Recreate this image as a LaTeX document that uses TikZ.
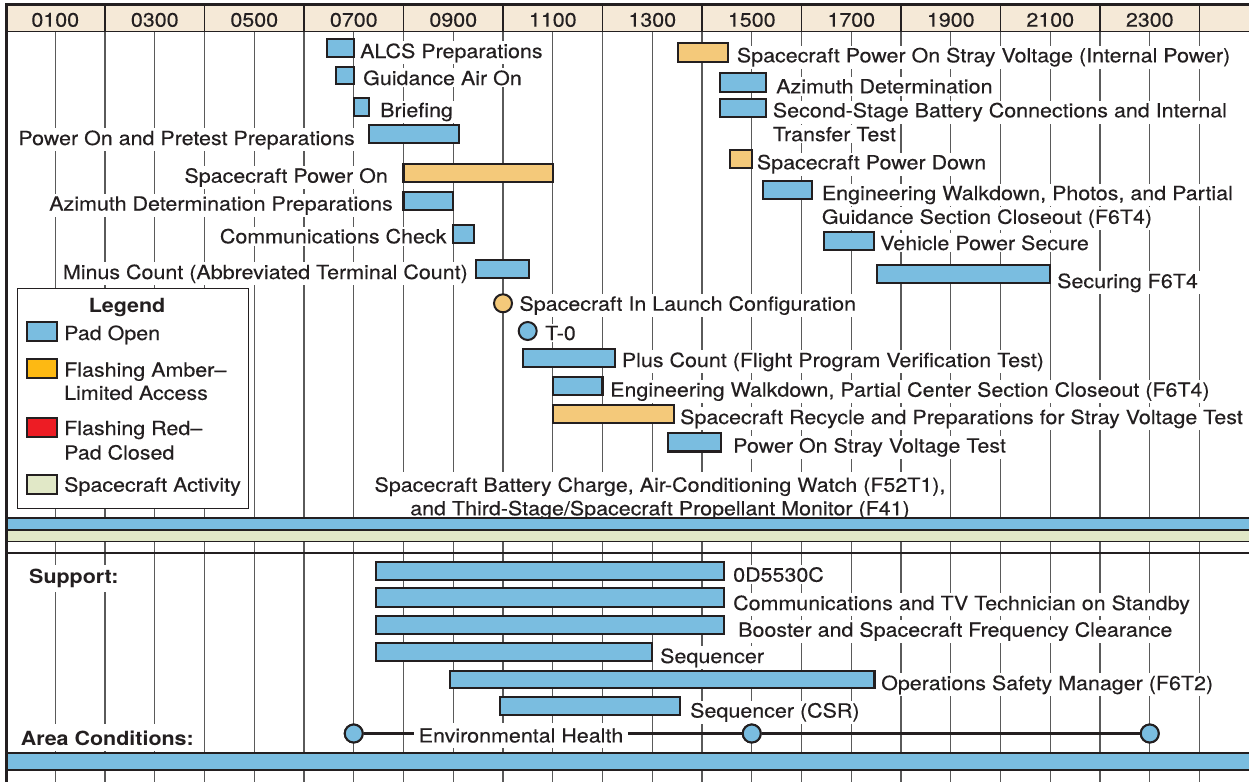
\documentclass[tikz,border=0pt]{standalone}
\usepackage{fontspec}
\setmainfont{TeX Gyre Heros}[FakeStretch=1.1, UprightFeatures={FakeBold=0.25}, BoldFeatures={FakeBold=0}]
\definecolor{padblue}{HTML}{7ABDE0}
\definecolor{amberbar}{HTML}{F4C97A}
\definecolor{amberleg}{HTML}{FDB913}
\definecolor{redleg}{HTML}{ED1C24}
\definecolor{scgreen}{HTML}{E1E8C7}
\definecolor{headtan}{HTML}{F5E9D7}
\definecolor{ink}{HTML}{231F20}
\definecolor{gridgray}{HTML}{5A5A5A}
\newcommand\lblfont{\fontsize{19.5}{23.5}\selectfont}
\tikzset{
  gridline/.style={draw=gridgray, line width=1.2pt},
  hdiv/.style={draw=ink, line width=1.3pt},
  bandline/.style={draw=ink, line width=1.6pt},
  barbase/.style={draw=ink, line width=2.3pt, line join=miter},
  bluebar/.style={barbase, fill=padblue},
  amberbox/.style={barbase, fill=amberbar},
  lbl/.style={fill=white, inner sep=2pt, font=\lblfont, text=ink},
  lw/.style={lbl, anchor=base west},
  le/.style={lbl, anchor=base east},
  dot/.style={circle, draw=ink, line width=2pt, minimum size=18pt, inner sep=0pt},
  swatch/.style={draw=ink, line width=2.3pt},
  legtext/.style={anchor=base west, inner sep=0pt, font=\lblfont, text=ink},
}
\begin{document}
\begin{tikzpicture}[x=1pt, y=-1pt]
\useasboundingbox (0,0) rectangle (1249,782);
\fill[white] (0,0) rectangle (1249,782);
% hourly grid lines
\foreach \h in {1,...,24} \draw[gridline] ({5.5+49.75*\h},32) -- ({5.5+49.75*\h},782);

% ---------- upper section labels ----------
\node[lw] (tAlcs) at (358,58) {ALCS Preparations};
\node[lw] (tGuid) at (361,85) {Guidance Air On};
\node[lw] (tBrief) at (378,117) {Briefing};
\node[le] (tPretest) at (357,145) {Power On and Pretest Preparations};
\node[le] (tScOn) at (390,182.7) {Spacecraft Power On};
\node[le] (tAzPrep) at (395,210.5) {Azimuth Determination Preparations};
\node[le] (tComm) at (448.7,243.3) {Communications Check};
\node[le] (tMinus) at (470,279) {Minus Count (Abbreviated Terminal Count)};
\node[lw] (tLaunch) at (517.3,310.7) {Spacecraft In Launch Configuration};
\node[lw] (tT0) at (543,340) {T-0};
\node[lw] (tPlus) at (619.7,367) {Plus Count (Flight Program Verification Test)};
\node[lw] (tEngC) at (608,396.7) {Engineering Walkdown, Partial Center Section Closeout (F6T4)};
\node[lw] (tRecyc) at (678,424) {Spacecraft Recycle and Preparations for Stray Voltage Test};
\node[lw] (tStrayT) at (731,452.5) {Power On Stray Voltage Test};
\node[lbl, inner sep=5pt, align=center, anchor=north] (tBatt) at (660,472) {Spacecraft Battery Charge, Air-Conditioning Watch (F52T1),\\and Third-Stage/Spacecraft Propellant Monitor (F41)};
\node[lw] (tStrayI) at (734.7,62.3) {Spacecraft Power On Stray Voltage (Internal Power)};
\node[lw] (tAz) at (774,93.3) {Azimuth Determination};
\node[lw] (tSecA) at (770.7,117.3) {Second-Stage Battery Connections and Internal};
\node[lw] (tSecB) at (770.7,141.2) {Transfer Test};
\node[lw] (tDown) at (754.7,169.3) {Spacecraft Power Down};
\node[lw] (tPhotA) at (819.7,200) {Engineering Walkdown, Photos, and Partial};
\node[lw] (tPhotB) at (819.7,223.8) {Guidance Section Closeout (F6T4)};
\node[lw] (tVeh) at (878,250) {Vehicle Power Secure};
\node[lw] (tSecur) at (1055,288) {Securing F6T4};

% ---------- upper section bars ----------
\draw[bluebar] (327.3,39.3) rectangle (353.75,56.7);
\draw[bluebar] (335.7,66.7) rectangle (353.75,84.3);
\draw[bluebar] (353.75,98.3) rectangle (369.3,116);
\draw[bluebar] (369.3,125) rectangle (458.7,143.3);
\draw[amberbox] (403.5,164) rectangle (552.75,182);
\draw[bluebar] (403.5,191.7) rectangle (453.25,210);
\draw[bluebar] (453.25,225) rectangle (473.7,243.3);
\draw[bluebar] (475.7,260) rectangle (528.7,278.3);
\node[dot, fill=amberbar] (cLaunch) at (503,303.3) {};
\node[dot, fill=padblue] (cT0) at (527.7,331) {};
\draw[bluebar] (523.3,349) rectangle (615,366.7);
\draw[bluebar] (552.75,377.3) rectangle (602.5,395);
\draw[amberbox] (552.75,405) rectangle (674,423.3);
\draw[bluebar] (667.7,433) rectangle (720.7,451.5);
\draw[amberbox] (677.7,43.3) rectangle (727.7,61.7);
\draw[bluebar] (720.3,73.3) rectangle (766,91.7);
\draw[bluebar] (720.3,99) rectangle (766,117.3);
\draw[amberbox] (730,150) rectangle (751.75,168.3);
\draw[bluebar] (763.3,181) rectangle (812.3,199.3);
\draw[bluebar] (824.3,231.7) rectangle (874,250);
\draw[bluebar] (877,265) rectangle (1050.25,283.3);

% ---------- legend ----------
\draw[draw=ink, line width=1.3pt, fill=white] (17.3,288.3) rectangle (248.3,508.3);
\node[legtext, anchor=base, font=\lblfont\bfseries] (legT) at (127,312.3) {Legend};
\draw[swatch, fill=padblue] (26.7,321.7) rectangle (57.3,340.7);
\node[legtext] (leg1) at (64,340) {Pad Open};
\draw[swatch, fill=amberleg] (26.7,359.3) rectangle (57.3,378.3);
\node[legtext] (leg2a) at (64,376.7) {Flashing Amber–};
\node[legtext] (leg2b) at (64,399.8) {Limited Access};
\draw[swatch, fill=redleg] (26.7,417.7) rectangle (57.3,436.7);
\node[legtext] (leg3a) at (64,435) {Flashing Red–};
\node[legtext] (leg3b) at (64,459.5) {Pad Closed};
\draw[swatch, fill=scgreen] (26.7,475) rectangle (57.3,494);
\node[legtext] (leg4) at (64,491.7) {Spacecraft Activity};

% ---------- bands ----------
\fill[padblue] (6.5,518.3) rectangle (1249,529.8);
\fill[scgreen] (6.5,529.8) rectangle (1249,541.5);
\draw[bandline, line width=2pt] (6.5,518.3) -- (1249,518.3);
\draw[bandline] (6.5,529.8) -- (1249,529.8);
\draw[bandline] (6.5,541.5) -- (1249,541.5);
\draw[bandline] (6.5,552.7) -- (1249,552.7);

% ---------- support section ----------
\node[lbl, inner sep=4pt, anchor=base west, font=\lblfont\bfseries] (tSupport) at (25,583.3) {Support:};
\node[lw] (s1) at (731,581.7) {0D5530C};
\node[lw] (s2) at (731,610) {Communications and TV Technician on Standby};
\node[lw] (s3) at (736,636.7) {Booster and Spacecraft Frequency Clearance};
\node[lw] (s4) at (658,663) {Sequencer};
\node[lw] (s5) at (879,690) {Operations Safety Manager (F6T2)};
\node[lw] (s6) at (688,717.5) {Sequencer (CSR)};
\draw[bluebar] (375.7,561.7) rectangle (724.3,580);
\draw[bluebar] (375.7,588.3) rectangle (724.3,606.7);
\draw[bluebar] (375.7,616) rectangle (724.3,634);
\draw[bluebar] (375.7,643.3) rectangle (651.7,661);
\draw[bluebar] (450.3,670.7) rectangle (874.5,688.3);
\draw[bluebar] (499.7,697.3) rectangle (679.7,715);

% ---------- area conditions ----------
\node[lbl, inner sep=6pt, anchor=base west, font=\lblfont\bfseries] (tArea) at (14.7,745) {Area Conditions:};
\node[lbl, inner sep=5pt] (tEnv) at (521,735.5) {Environmental Health};
\node[dot, fill=padblue] (e1) at (353.75,733.5) {};
\node[dot, fill=padblue] (e2) at (751.75,733.5) {};
\node[dot, fill=padblue] (e3) at (1149.75,733.5) {};
\draw[draw=ink, line width=2.2pt] (e1) -- (e1 -| tEnv.west);
\draw[draw=ink, line width=2.2pt] (tEnv.east |- e2) -- (e2) -- (e3);
\node[dot, fill=padblue] at (e1) {};
\node[dot, fill=padblue] at (e2) {};
\node[dot, fill=padblue] at (e3) {};

\fill[padblue] (6.5,752.7) rectangle (1249,770);
\draw[bandline, line width=2pt] (6.5,752.7) -- (1249,752.7);
\draw[bandline, line width=2pt] (6.5,770) -- (1249,770);

% ---------- header ----------
\fill[headtan] (6.5,4.7) rectangle (1249,31.5);
\foreach \h in {2,4,...,24} \draw[hdiv] ({5.5+49.75*\h},4.7) -- ({5.5+49.75*\h},31.5);
\foreach \h/\t in {1/0100,3/0300,5/0500,7/0700,9/0900,11/1100,13/1300,15/1500,17/1700,19/1900,21/2100,23/2300}
  \node[anchor=base, inner sep=0pt, font=\lblfont, text=ink] (hd\h) at ({5.5+49.75*\h},26.7) {\t};
\draw[hdiv, line width=1.6pt] (6.5,31.5) -- (1249,31.5);
\draw[draw=ink, line width=3pt] (5,4.7) -- (1249,4.7);
\draw[draw=ink, line width=3pt] (6.5,3.2) -- (6.5,782);
\end{tikzpicture}
\end{document}
